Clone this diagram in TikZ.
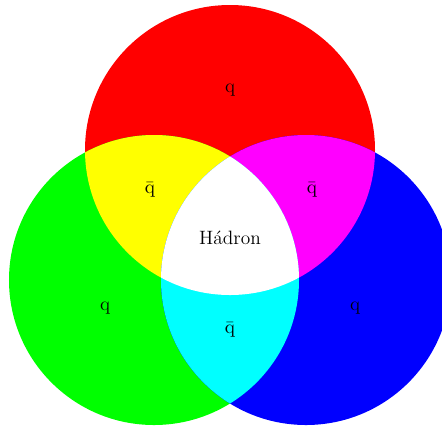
\documentclass[tikz,border=0pt]{standalone}
\usepackage{amsmath}
\usepackage{xcolor}
\definecolor{colred}{RGB}{255, 0, 0}
\definecolor{colgreen}{RGB}{0, 255, 0}
\definecolor{colblue}{RGB}{0, 0, 255}
\definecolor{colyellow}{RGB}{255, 255, 0}
\definecolor{colmagenta}{RGB}{255, 0, 255}
\definecolor{colcyan}{RGB}{0, 255, 255}
\usepackage{tikz}
\usetikzlibrary{calc}

\begin{document}
\begin{tikzpicture}[quark/.style={inner sep=1pt, text=black, font=\fontsize{11}{13}\selectfont}]
    \def\rad{2.9}
    \useasboundingbox (-4.6,-5.56) rectangle (4.24,3.0);
    \coordinate (cr) at (0,0);
    \coordinate (cg) at (-1.52,-2.6);
    \coordinate (cb) at (1.52,-2.6);
    \fill[colred] (cr) circle (\rad);
    \fill[colgreen] (cg) circle (\rad);
    \fill[colblue] (cb) circle (\rad);
    \begin{scope}
        \clip (cr) circle (\rad);
        \fill[colyellow] (cg) circle (\rad);
        \fill[colmagenta] (cb) circle (\rad);
    \end{scope}
    \begin{scope}
        \clip (cg) circle (\rad);
        \fill[colcyan] (cb) circle (\rad);
        \clip (cb) circle (\rad);
        \fill[white] (cr) circle (\rad);
    \end{scope}
    \node[quark] (qr) at (0,1.2) {q};
    \node[quark] (qg) at (-2.5,-3.16) {q};
    \node[quark] (qb) at (2.5,-3.16) {q};
    \node[quark] (aqrg) at (-1.6,-0.8) {$\bar{\mathrm{q}}$};
    \node[quark] (aqrb) at (1.64,-0.8) {$\bar{\mathrm{q}}$};
    \node[quark] (aqgb) at (0,-3.6) {$\bar{\mathrm{q}}$};
    \node[quark] (had) at (0,-1.76) {H\'adron};
\end{tikzpicture}
\end{document}
